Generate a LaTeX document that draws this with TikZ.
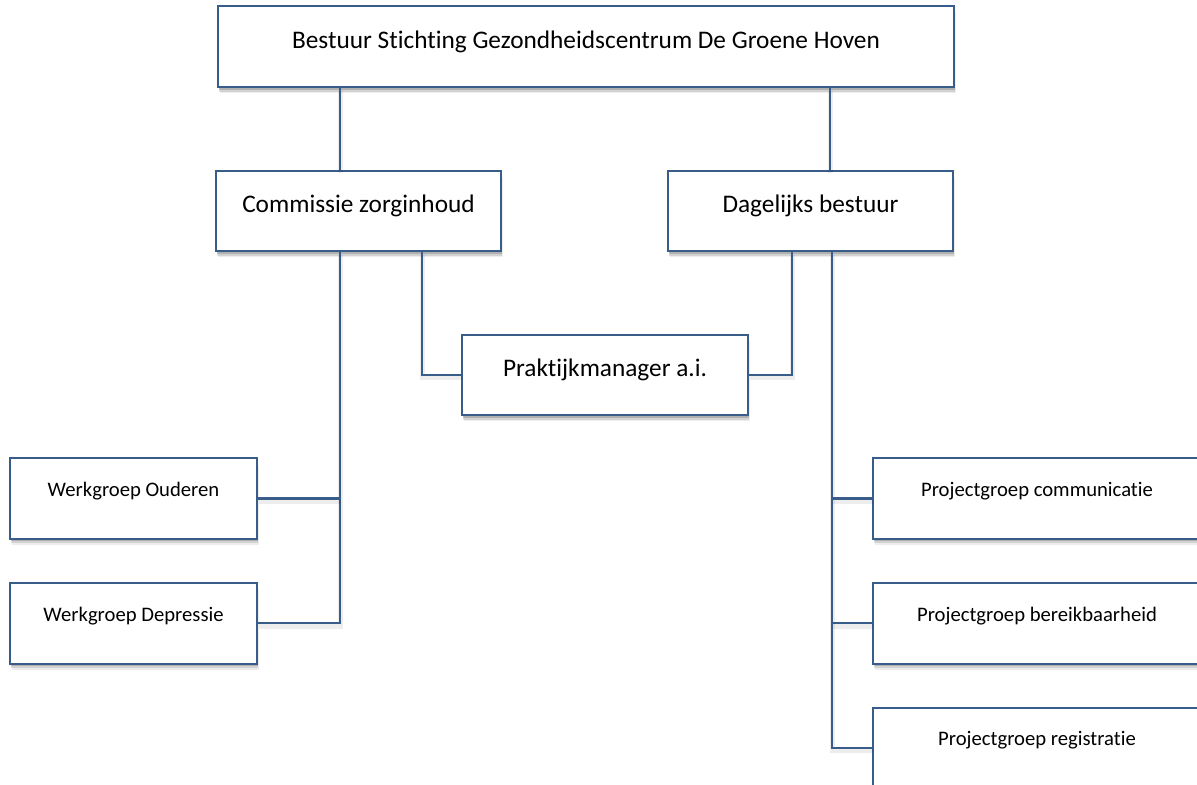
\documentclass[tikz,border=0pt]{standalone}
\usepackage{fontspec}
\setmainfont{Carlito}[Ligatures=NoCommon]
\usepackage{tikz}
\usetikzlibrary{positioning,shadows,calc}
\definecolor{orgline}{HTML}{385D8A}
\newcommand{\rightcut}[1]{\makebox[7cm]{#1}\kern0.8cm}

\begin{document}
\begin{tikzpicture}[
  softshadow/.style={drop shadow={shadow xshift=0.5pt,shadow yshift=-1.8pt,opacity=0.16,fill=black},
    drop shadow={shadow xshift=0.8pt,shadow yshift=-3.2pt,opacity=0.11,fill=black},
    drop shadow={shadow xshift=1.1pt,shadow yshift=-4.6pt,opacity=0.07,fill=black}},
  orgbox/.style={draw=orgline,line width=1.4pt,fill=white,softshadow,inner sep=0pt},
  bigbox/.style={orgbox,font=\fontsize{18}{21}\selectfont,minimum height=2.0cm,text height=12.5pt,text depth=10pt},
  smallbox/.style={orgbox,font=\fontsize{14.7}{17}\selectfont,minimum width=6.175cm,minimum height=2.02cm,text height=10pt,text depth=13pt},
  projbox/.style={smallbox,minimum width=9cm},
  conn/.style={draw=orgline,line width=1.6pt,
    preaction={draw=black,opacity=0.07,line width=3.5pt,transform canvas={xshift=0.6pt,yshift=-2pt}}}]
\useasboundingbox (0,0) rectangle (29.925,-19.625);
\clip (0,0) rectangle (29.925,-19.625);
\fill[white] (0,0) rectangle (29.925,-19.625);
% top level
\node[bigbox,minimum width=18.4cm,minimum height=2.025cm] (bestuur) at (14.65,-1.1625) {Bestuur Stichting Gezondheidscentrum De Groene Hoven};
\node[bigbox,minimum width=7.125cm] (commissie) at (8.9625,-5.275) {Commissie zorginhoud};
\node[bigbox,minimum width=7.125cm] (dagelijks) at (20.2625,-5.275) {Dagelijks bestuur};
\node[bigbox,minimum width=7.15cm] (praktijk) at (15.125,-9.375) {Praktijkmanager a.i.};
% werkgroepen
\node[smallbox] (ouderen) at (3.3375,-12.4625) {Werkgroep Ouderen};
\node[smallbox,below=1.05cm of ouderen] (depressie) {Werkgroep Depressie};
% projectgroepen
\node[projbox] (communicatie) at (26.325,-12.4625) {\rightcut{Projectgroep communicatie}};
\node[projbox,below=1.05cm of communicatie] (bereik) {\rightcut{Projectgroep bereikbaarheid}};
\node[projbox,below=1.05cm of bereik] (registratie) {\rightcut{Projectgroep registratie}};
% lines
\coordinate (cleft) at ([xshift=-0.46cm]commissie.south);
\coordinate (dright) at ([xshift=0.54cm]dagelijks.south);
\draw[conn] ([xshift=-0.46cm]commissie.north) -- ([xshift=-0.46cm]commissie.north |- bestuur.south);
\draw[conn] ([xshift=0.49cm]dagelijks.north) -- ([xshift=0.49cm]dagelijks.north |- bestuur.south);
\draw[conn] (cleft) |- (depressie.east);
\draw[conn] (ouderen.east) -- (ouderen.east -| cleft);
\draw[conn] ([xshift=1.59cm]commissie.south) |- (praktijk.west);
\draw[conn] ([xshift=-0.46cm]dagelijks.south) |- (praktijk.east);
\draw[conn] (dright) |- (registratie.west);
\draw[conn] (communicatie.west) -- (communicatie.west -| dright);
\draw[conn] (bereik.west) -- (bereik.west -| dright);
\end{tikzpicture}
\end{document}
